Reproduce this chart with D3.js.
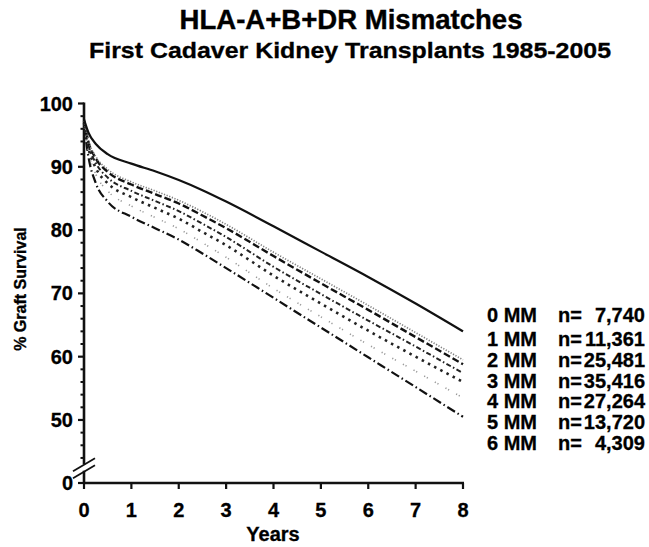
<!DOCTYPE html>
<html>
<head>
<meta charset="utf-8">
<script src="https://cdn.jsdelivr.net/npm/d3@7/dist/d3.min.js"></script>
<style>
  html, body { margin: 0; padding: 0; background: #fff; }
  svg { display: block; font-family: "Liberation Sans", Arial, Helvetica, sans-serif; font-weight: bold; }
</style>
</head>
<body>
<svg id="chart" width="649" height="547"></svg>
<script>
// Follow-up time points (years)
const years = [0, 0.1, 0.25, 0.5, 1, 1.5, 2, 2.5, 3, 4, 5, 6, 7, 8];

// Graft survival (%) by number of HLA-A+B+DR mismatches
const mm0 = [97.5, 95.3, 93.6, 92.0, 90.5, 89.3, 87.9, 86.3, 84.5, 80.6, 76.6, 72.6, 68.4, 64.0];
const mm1 = [97.3, 94.0, 91.6, 89.6, 87.6, 86.2, 84.7, 82.9, 80.9, 76.5, 72.3, 68.1, 63.8, 59.5];
const mm2 = [97.2, 93.8, 91.3, 89.2, 87.2, 85.7, 84.2, 82.3, 80.3, 75.9, 71.6, 67.4, 63.1, 58.8];
const mm3 = [97.0, 93.3, 90.6, 88.3, 86.2, 84.6, 83.0, 81.0, 78.9, 74.2, 69.9, 65.7, 61.6, 57.4];
const mm4 = [96.9, 92.8, 89.8, 87.4, 85.2, 83.5, 81.8, 79.7, 77.6, 72.8, 68.4, 64.1, 60.0, 56.0];
const mm5 = [96.7, 92.2, 88.8, 86.2, 83.8, 82.0, 80.2, 78.0, 75.7, 70.8, 66.3, 61.9, 57.7, 53.5];
const mm6 = [96.5, 91.3, 87.4, 84.5, 82.1, 80.3, 78.5, 76.3, 74.0, 69.3, 64.6, 59.9, 55.2, 50.5];

// Legend labels and group sizes
const groupLabels = ["0 MM", "1 MM", "2 MM", "3 MM", "4 MM", "5 MM", "6 MM"];
const groupN = [7740, 11361, 25481, 35416, 27264, 13720, 4309];

// Axis tick values
const xTicks = [0, 1, 2, 3, 4, 5, 6, 7, 8];
const yTicks = [0, 50, 60, 70, 80, 90, 100];
const yMinorTicks = [44, 46, 48, 52, 54, 56, 58, 62, 64, 66, 68, 72, 74, 76, 78, 82, 84, 86, 88, 92, 94, 96, 98];

const seriesValues = [mm0, mm1, mm2, mm3, mm4, mm5, mm6];

// Line styles for each mismatch group
const styles = [
  { color: "#111", width: 2.2, dash: null },
  { color: "#808080", width: 1.7, dash: "1.2,1.6" },
  { color: "#111", width: 2.4, dash: "7,3" },
  { color: "#222", width: 2.0, dash: "5,2.5,1.5,2.5" },
  { color: "#222", width: 2.6, dash: "2.5,4.5" },
  { color: "#999", width: 1.6, dash: "1.2,1.8,1.2,8" },
  { color: "#111", width: 2.2, dash: "9,3,1.5,3" }
];

const svg = d3.select("#chart");

// Scales: y axis is broken between 0 and the 40s
const x = d3.scaleLinear().domain([0, 8]).range([84, 463]);
const y = d3.scaleLinear().domain([0, 42, 100]).range([483, 470.6, 103.5]);

// Titles
svg.append("text")
  .attr("x", 351).attr("y", 29)
  .attr("text-anchor", "middle")
  .attr("font-size", 27)
  .attr("stroke", "#000").attr("stroke-width", 0.4)
  .attr("textLength", 343).attr("lengthAdjust", "spacingAndGlyphs")
  .text("HLA-A+B+DR Mismatches");

svg.append("text")
  .attr("x", 350).attr("y", 58)
  .attr("text-anchor", "middle")
  .attr("font-size", 22)
  .attr("stroke", "#000").attr("stroke-width", 0.3)
  .attr("textLength", 522).attr("lengthAdjust", "spacingAndGlyphs")
  .text("First Cadaver Kidney Transplants 1985-2005");

// Y axis line with break
const axisG = svg.append("g").attr("stroke", "#111").attr("stroke-width", 2.6).attr("fill", "none");
axisG.append("line").attr("x1", x(0)).attr("x2", x(0)).attr("y1", y(100) - 1).attr("y2", y(43));
axisG.append("line").attr("x1", x(0)).attr("x2", x(0)).attr("y1", y(41.6)).attr("y2", y(0));
// break marks
[y(43) + 0.5, y(41.6) + 1].forEach(yc => {
  svg.append("line")
    .attr("x1", x(0) - 11).attr("y1", yc + 6.5)
    .attr("x2", x(0) + 11).attr("y2", yc - 6.5)
    .attr("stroke", "#111").attr("stroke-width", 1.8);
});

// X axis line
axisG.append("line").attr("x1", x(0) - 1).attr("x2", x(8) + 1).attr("y1", y(0)).attr("y2", y(0));

// Y major ticks and labels
yTicks.forEach(v => {
  svg.append("line")
    .attr("x1", x(0) - 6).attr("x2", x(0))
    .attr("y1", y(v)).attr("y2", y(v))
    .attr("stroke", "#111").attr("stroke-width", 2.2);
  svg.append("text")
    .attr("x", x(0) - 11).attr("y", y(v) + 7)
    .attr("text-anchor", "end")
    .attr("font-size", 20)
    .attr("stroke", "#000").attr("stroke-width", 0.3)
    .text(v);
});
// Y minor ticks
yMinorTicks.forEach(v => {
  svg.append("line")
    .attr("x1", x(0) - 3.5).attr("x2", x(0))
    .attr("y1", y(v)).attr("y2", y(v))
    .attr("stroke", "#111").attr("stroke-width", 2);
});

// X ticks and labels
xTicks.forEach(t => {
  svg.append("line")
    .attr("x1", x(t)).attr("x2", x(t))
    .attr("y1", y(0)).attr("y2", y(0) + 6)
    .attr("stroke", "#111").attr("stroke-width", 2.2);
  svg.append("text")
    .attr("x", x(t)).attr("y", 517)
    .attr("text-anchor", "middle")
    .attr("font-size", 20)
    .attr("stroke", "#000").attr("stroke-width", 0.3)
    .text(t);
});

// Axis titles
svg.append("text")
  .attr("x", 273).attr("y", 541)
  .attr("text-anchor", "middle")
  .attr("font-size", 20)
  .attr("stroke", "#000").attr("stroke-width", 0.3)
  .text("Years");

svg.append("text")
  .attr("transform", "translate(26,289) rotate(-90)")
  .attr("text-anchor", "middle")
  .attr("font-size", 16)
  .attr("stroke", "#000").attr("stroke-width", 0.35)
  .text("% Graft Survival");

// Survival curves
const line = d3.line()
  .x(d => x(d[0]))
  .y(d => y(d[1]))
  .curve(d3.curveMonotoneX);

// draw lower groups first so the upper curves sit on top
for (let i = seriesValues.length - 1; i >= 0; i--) {
  const pts = years.map((t, j) => [t, seriesValues[i][j]]);
  const s = styles[i];
  svg.append("path")
    .attr("d", line(pts))
    .attr("fill", "none")
    .attr("stroke", s.color)
    .attr("stroke-width", s.width)
    .attr("stroke-dasharray", s.dash)
    .attr("stroke-linecap", "butt");
}

// Legend
const legendY = [322, 346, 367, 388, 408, 429, 450];
const fmt = d3.format(",");
groupLabels.forEach((lab, i) => {
  const row = svg.append("g").attr("font-size", 20)
    .attr("stroke", "#000").attr("stroke-width", 0.3);
  row.append("text").attr("x", 487).attr("y", legendY[i]).text(lab);
  row.append("text").attr("x", 558).attr("y", legendY[i]).text("n=");
  row.append("text").attr("x", 645).attr("y", legendY[i])
    .attr("text-anchor", "end").text(fmt(groupN[i]));
});
</script>
</body>
</html>
